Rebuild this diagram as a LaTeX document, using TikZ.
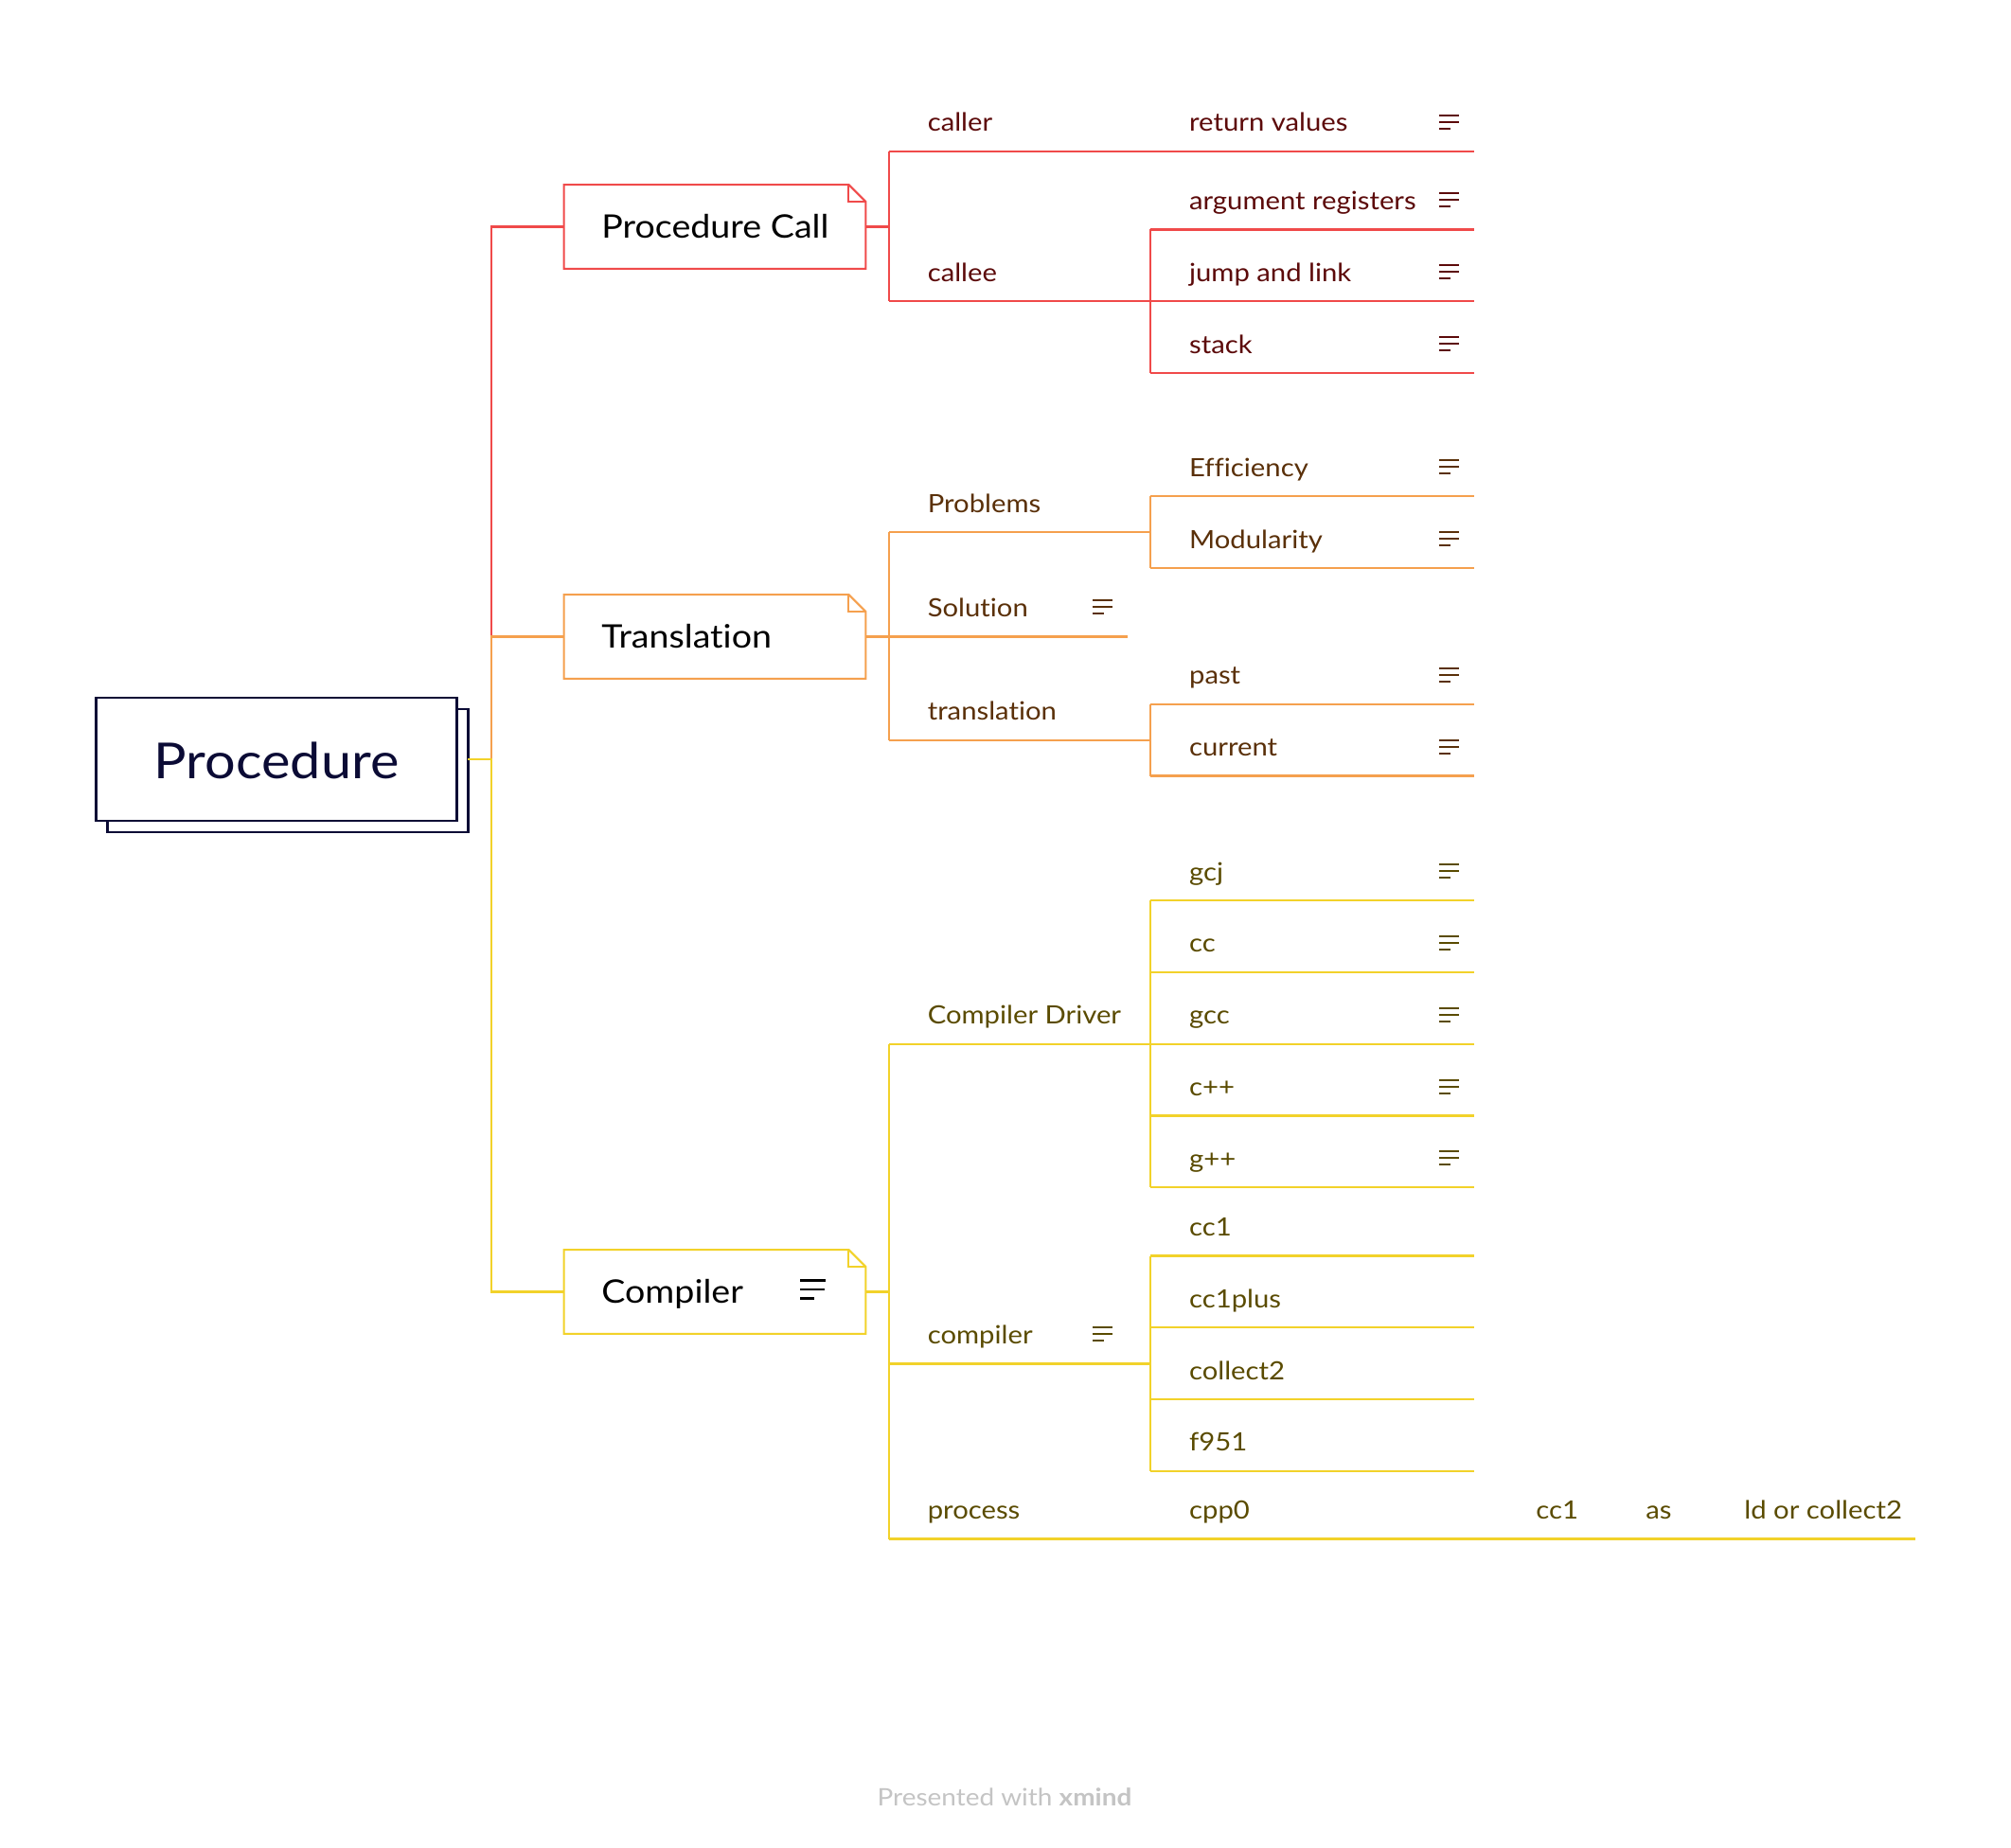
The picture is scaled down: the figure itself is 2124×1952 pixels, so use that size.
\documentclass[tikz,border=0pt]{standalone}
\usepackage{fontspec}
\setmainfont{Lato}[FakeStretch=1.1, Ligatures=NoCommon]
\definecolor{rootc}{HTML}{0B0B35}
\definecolor{redl}{HTML}{F04A4A}
\definecolor{redt}{HTML}{5C0A0A}
\definecolor{orl}{HTML}{F5A04E}
\definecolor{ort}{HTML}{5A3009}
\definecolor{yel}{HTML}{F2D22A}
\definecolor{yet}{HTML}{5A4B00}
\definecolor{foot}{HTML}{C4C4C4}
\tikzset{
  lvtext/.style={inner sep=0pt, anchor=base west, font=\fontsize{13.3}{16}\selectfont},
  ltext/.style={inner sep=0pt, anchor=base west, font=\fontsize{17.1}{21}\selectfont, text=black},
  bline/.style={line width=1.05pt},
  boxnode/.style={inner sep=0pt, minimum width=159pt, minimum height=44pt},
  noteS/.pic={\draw[line width=1pt, line cap=butt] (0,-7) -- (21,-7) (0,0) -- (21,0) (0,7) -- (12,7);},
  noteL/.pic={\draw[line width=1.4pt, line cap=butt] (0,-9.5) -- (27,-9.5) (0,0) -- (26,0) (0,9.5) -- (15,9.5);},
}
\newcommand\foldbox[1]{%
  \draw (#1.north west) -- ([xshift=-9pt]#1.north east) -- ([yshift=-9pt]#1.north east) -- (#1.south east) -- (#1.south west) -- cycle;
  \draw ([xshift=-9pt]#1.north east) |- ([yshift=-9pt]#1.north east);}
\begin{document}
\begin{tikzpicture}[x=0.5pt,y=-0.5pt]
\useasboundingbox[fill=white] (0,0) rectangle (2124,1952);

% ---------- root ----------
\node[draw=rootc, line width=1.3pt, fill=white, inner sep=0pt,
      minimum width=190.3pt, minimum height=65pt,
      preaction={draw=rootc, line width=1.3pt, fill=white, transform canvas={xshift=6pt,yshift=-6pt}}]
      (root) at (292,802) {};
\node[inner sep=0pt, anchor=base, font=\fontsize{26.2}{31}\selectfont, text=rootc] (roottext) at (292,822) {Procedure};
\coordinate (rootout) at (494,802);
\coordinate (trunk) at (519,802);

% ---------- level 1 boxes ----------
\node[boxnode] (pcbox) at (755,239.5) {};
\node[boxnode] (trbox) at (755,672.5) {};
\node[boxnode] (cobox) at (755,1364.5) {};

\draw[redl, bline] (trunk) |- (pcbox.west);
\draw[orl, bline] (trunk) |- (trbox.west);
\draw[yel, bline] (rootout) -- (trunk) |- (cobox.west);

\begin{scope}[redl, bline]\foldbox{pcbox}\end{scope}
\begin{scope}[orl, bline]\foldbox{trbox}\end{scope}
\begin{scope}[yel, bline]\foldbox{cobox}\end{scope}

\node[ltext] (pctext) at (635,251.5) {Procedure Call};
\node[ltext] (trtext) at (635,684.5) {Translation};
\node[ltext] (cotext) at (635,1376.5) {Compiler};
\pic[black] at (845,1362) {noteL};

% ---------- Procedure Call branch (red) ----------
\begin{scope}[every node/.style={lvtext, text=redt}]
\node (caller) at (979.4,139) {caller};
\node (callee) at (979.4,297.3) {callee};
\node (retvals) at (1255.7,139) {return values};
\node (argregs) at (1255.7,221.5) {argument registers};
\node (jal) at (1255.7,297.3) {jump and link};
\node (stack) at (1255.7,373.2) {stack};
\end{scope}
\coordinate (pcv) at (939,239.5);
\coordinate (caller-u) at (939,160);
\coordinate (callee-u) at (939,318.3);
\coordinate (retvals-u) at (1215,160);
\coordinate (retvals-e) at (1556.5,160);
\coordinate (argregs-u) at (1215,242.5);
\coordinate (argregs-e) at (1556.5,242.5);
\coordinate (jal-u) at (1215,318.3);
\coordinate (jal-e) at (1556.5,318.3);
\coordinate (stack-u) at (1215,394.2);
\coordinate (stack-e) at (1556.5,394.2);
\begin{scope}[redl, bline]
\draw (pcbox.east) -- (pcv);
\draw (caller-u) -- (callee-u);
\draw (caller-u) -- (retvals-u) -- (retvals-e);
\draw (callee-u) -- (jal-u);
\draw (argregs-u) -- (stack-u);
\draw (argregs-u) -- (argregs-e);
\draw (jal-u) -- (jal-e);
\draw (stack-u) -- (stack-e);
\end{scope}
\begin{scope}[redt]
\pic at (1520,129) {noteS};
\pic at (1520,211.5) {noteS};
\pic at (1520,287.3) {noteS};
\pic at (1520,363.2) {noteS};
\end{scope}

% ---------- Translation branch (orange) ----------
\begin{scope}[every node/.style={lvtext, text=ort}]
\node (problems) at (979.4,541.2) {Problems};
\node (solution) at (979.4,651) {Solution};
\node (translation) at (979.4,760.6) {translation};
\node (efficiency) at (1255.7,503.2) {Efficiency};
\node (modularity) at (1255.7,579) {Modularity};
\node (past) at (1255.7,722.7) {past};
\node (current) at (1255.7,798.5) {current};
\end{scope}
\coordinate (trv) at (939,672.5);
\coordinate (problems-u) at (939,562.2);
\coordinate (problems-j) at (1215,562.2);
\coordinate (solution-u) at (939,672.5);
\coordinate (solution-e) at (1190.7,672.5);
\coordinate (translation-u) at (939,781.6);
\coordinate (translation-j) at (1215,781.6);
\coordinate (efficiency-u) at (1215,524.2);
\coordinate (efficiency-e) at (1556.5,524.2);
\coordinate (modularity-u) at (1215,600);
\coordinate (modularity-e) at (1556.5,600);
\coordinate (past-u) at (1215,743.7);
\coordinate (past-e) at (1556.5,743.7);
\coordinate (current-u) at (1215,819.5);
\coordinate (current-e) at (1556.5,819.5);
\begin{scope}[orl, bline]
\draw (trbox.east) -- (trv);
\draw (problems-u) -- (translation-u);
\draw (problems-u) -- (problems-j);
\draw (solution-u) -- (solution-e);
\draw (translation-u) -- (translation-j);
\draw (efficiency-u) -- (modularity-u);
\draw (efficiency-u) -- (efficiency-e);
\draw (modularity-u) -- (modularity-e);
\draw (past-u) -- (current-u);
\draw (past-u) -- (past-e);
\draw (current-u) -- (current-e);
\end{scope}
\begin{scope}[ort]
\pic at (1154,641) {noteS};
\pic at (1520,493.2) {noteS};
\pic at (1520,569) {noteS};
\pic at (1520,712.7) {noteS};
\pic at (1520,788.5) {noteS};
\end{scope}

% ---------- Compiler branch (yellow) ----------
\begin{scope}[every node/.style={lvtext, text=yet}]
\node (cdriver) at (979.4,1081.6) {Compiler Driver};
\node (compilerb) at (979.4,1419) {compiler};
\node (process) at (979.4,1604.5) {process};
\node (gcj) at (1255.7,930) {gcj};
\node (cc) at (1255.7,1005.8) {cc};
\node (gcc) at (1255.7,1081.6) {gcc};
\node (cpp) at (1255.7,1157.5) {c++};
\node (gpp) at (1255.7,1233.4) {g++};
\node (ccone) at (1255.7,1305.2) {cc1};
\node (cconeplus) at (1255.7,1381) {cc1plus};
\node (collect) at (1255.7,1457) {collect2};
\node (fnine) at (1255.7,1532.7) {f951};
\node (cppzero) at (1255.7,1604.5) {cpp0};
\node (cconeb) at (1622,1604.5) {cc1};
\node (as) at (1738,1604.5) {as};
\node (ld) at (1842,1604.5) {ld or collect2};
\end{scope}
\coordinate (cov) at (939,1364.5);
\coordinate (cdriver-u) at (939,1102.6);
\coordinate (compilerb-u) at (939,1440.5);
\coordinate (compilerb-j) at (1215,1440.5);
\coordinate (process-u) at (939,1625.5);
\coordinate (cppzero-u) at (1215,1625.5);
\coordinate (cconeb-u) at (1590,1625.5);
\coordinate (as-u) at (1705,1625.5);
\coordinate (ld-u) at (1810,1625.5);
\coordinate (ld-e) at (2022.5,1625.5);
\coordinate (gcj-u) at (1215,951);
\coordinate (cc-u) at (1215,1026.8);
\coordinate (gcc-u) at (1215,1102.6);
\coordinate (cpp-u) at (1215,1178.5);
\coordinate (gpp-u) at (1215,1254.4);
\coordinate (ccone-u) at (1215,1326.5);
\coordinate (cconeplus-u) at (1215,1402.2);
\coordinate (collect-u) at (1215,1478);
\coordinate (fnine-u) at (1215,1554);
\begin{scope}[yel, bline]
\draw (cobox.east) -- (cov);
\draw (cdriver-u) -- (process-u);
\draw (cdriver-u) -- (gcc-u);
\draw (compilerb-u) -- (compilerb-j);
\draw (process-u) -- (cppzero-u) -- (cconeb-u) -- (as-u) -- (ld-u) -- (ld-e);
\draw (gcj-u) -- (gpp-u);
\draw (ccone-u) -- (fnine-u);
\foreach \n in {gcj,cc,gcc,cpp,gpp,ccone,cconeplus,collect,fnine}
  \draw (\n-u) -- ++(341.5,0);
\end{scope}
\begin{scope}[yet]
\pic at (1154,1409) {noteS};
\pic at (1520,920) {noteS};
\pic at (1520,995.8) {noteS};
\pic at (1520,1071.6) {noteS};
\pic at (1520,1147.5) {noteS};
\pic at (1520,1223.4) {noteS};
\end{scope}

% ---------- footer ----------
\node[inner sep=0pt, anchor=base, text=foot, font=\fontsize{12.7}{15}\selectfont] (footer) at (1061,1907.7) {Presented with \textbf{xmind}};
\end{tikzpicture}
\end{document}
